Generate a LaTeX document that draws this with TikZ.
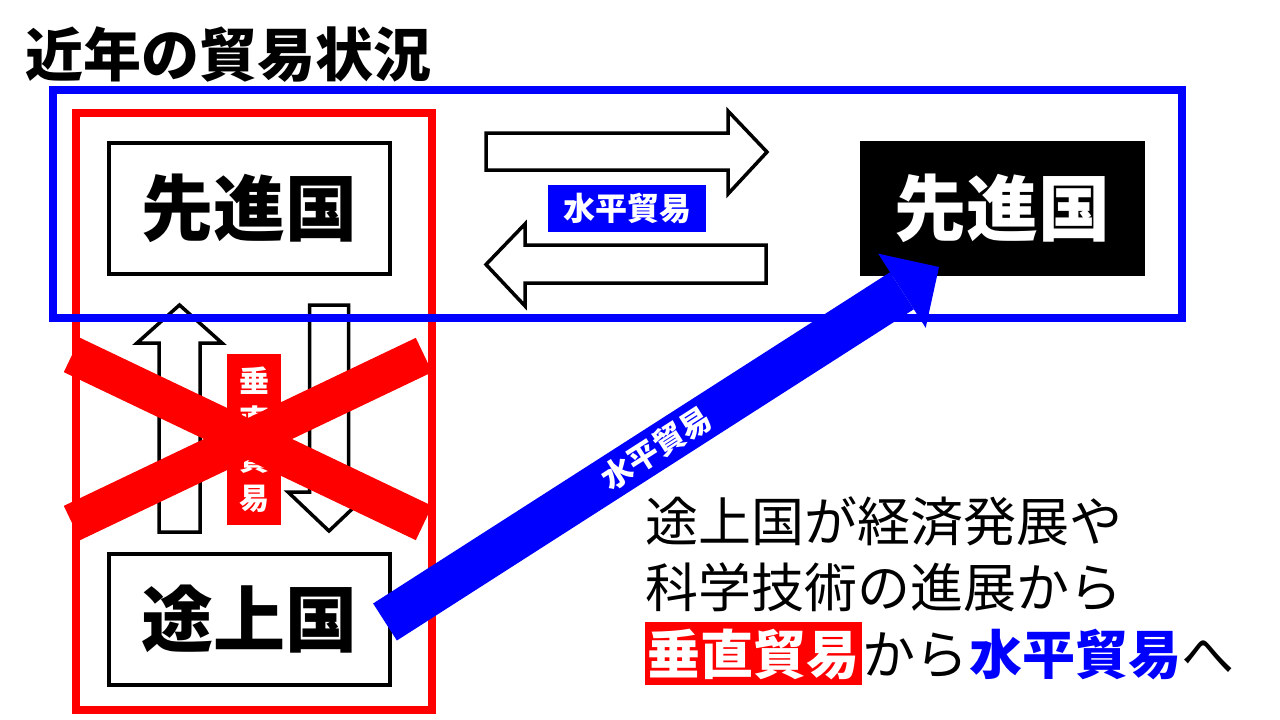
\documentclass[tikz,border=0pt]{standalone}
\usepackage{fontspec}
\setmainfont{Noto Sans CJK JP}
\usepackage{tikz}
\usetikzlibrary{arrows.meta,positioning}

\begin{document}
\begin{tikzpicture}[x=1pt,y=-1pt,line join=miter,
  box/.style={draw,line width=4pt,minimum width=281pt,minimum height=131pt,inner sep=0pt,
    font=\bfseries\fontsize{72}{72}\selectfont},
  hollow/.style={draw,line width=3.5pt,fill=white},
  cross/.style={red,line width=38pt},
  body/.style={anchor=base west,inner sep=0pt,font=\fontsize{53}{53}\selectfont}]
  \useasboundingbox (0,0) rectangle (1280,720);
  \node[anchor=west,inner sep=0pt,font=\bfseries\fontsize{58}{58}\selectfont] (title) at (25,55) {近年の貿易状況};
  \draw[red,line width=8pt] (76,113) rectangle (432,709.5);
  \node[box] (devL) at (249.5,208.5) {先進国};
  \node[box] (devS) at (249.5,619.5) {途上国};
  \draw[hollow] (159,532)--(159,343)--(137,343)--(179.5,305)--(222,343)--(200,343)--(200,532)--cycle;
  \draw[hollow] (309.5,305)--(348.5,305)--(348.5,492)--(370,492)--(329,531)--(288,492)--(309.5,492)--cycle;
  \node[fill=red,text=white,minimum width=54pt,minimum height=171pt,inner sep=0pt,align=center,
    font=\bfseries\fontsize{30}{39}\selectfont] (vtLbl) at (254,439.5) {垂\\直\\貿\\易};
  \foreach \a/\b in {355/523,523/355}
    \draw[cross] (72,\a) -- (424,\b);
  \draw[blue,line width=8pt] (53,90) rectangle (1182,317.5);
  \draw[hollow] (486,133)--(728,133)--(728,111)--(767,152)--(728,194)--(728,170)--(486,170)--cycle;
  \draw[hollow] (766,245)--(525,245)--(525,224)--(486,264.5)--(525,306)--(525,283)--(766,283)--cycle;
  \node[fill=blue,text=white,minimum width=158pt,minimum height=47pt,inner sep=0pt,
    font=\bfseries\fontsize{32}{32}\selectfont] (hzLbl) at (627,208.5) {水平貿易};
  \node[box,draw=none,fill=black,text=white,minimum width=285pt,minimum height=135pt] (devR) at (1002.5,208.5) {先進国};
  \coordinate (hzTail) at (385,622);
  \coordinate (hzTip) at (939,267);
  \draw[blue,line width=44pt,-{Triangle[length=44pt,width=88pt,line width=0pt]}] (hzTail) --
    node[sloped,pos=.49,text=white,font=\bfseries\fontsize{31}{31}\selectfont] (hzArr) {水平貿易} (hzTip);
  \node[body] (txt1) at (645,541) {途上国が経済発展や};
  \node[body] (txt2) at (645,607) {科学技術の進展から};
  \node[body,fill=red,text=white,inner xsep=2.5pt,inner ysep=6pt,font=\bfseries\fontsize{53}{53}\selectfont] (txtV) at (645,674) {垂直貿易};
  \node[body] (txtK) at (txtV.base east) {から};
  \node[body,text=blue,font=\bfseries\fontsize{53}{53}\selectfont] (txtH) at (txtK.base east) {水平貿易};
  \node[body] (txtE) at (txtH.base east) {へ};
\end{tikzpicture}
\end{document}
